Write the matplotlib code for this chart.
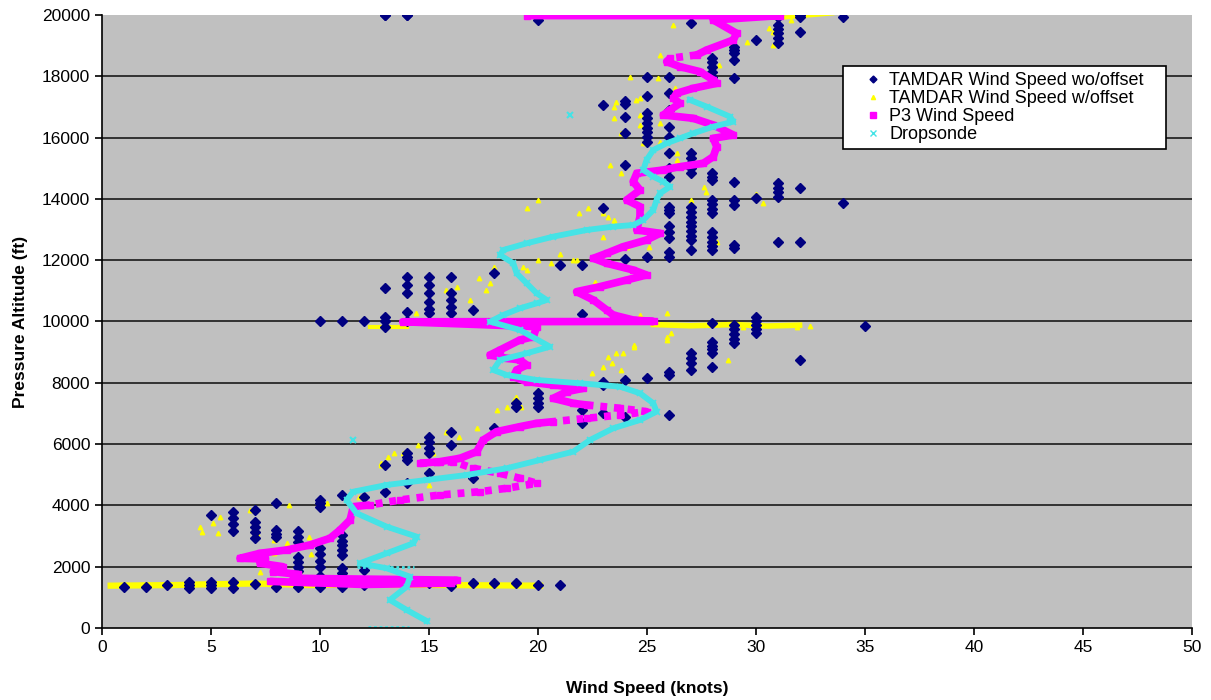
import matplotlib
matplotlib.use('Agg')
import matplotlib.pyplot as plt
from matplotlib.lines import Line2D

plt.rcParams['font.family'] = ['Liberation Sans', 'DejaVu Sans']

# TAMDAR sem offset (losangos azul-marinho)
wo_speed = [13, 14, 20, 27, 31, 31, 31, 31, 31, 31, 32, 32, 32, 34, 30,
            29, 29, 29, 29, 29, 28, 28, 28, 28, 28,
            27, 27, 27, 27, 27, 27, 27, 27, 27, 27, 27, 27, 27, 27, 27, 27, 27, 27,
            26, 26, 26, 26, 26, 26, 26, 26, 26, 26, 26, 26, 26, 26, 26, 26, 26, 26, 26,
            25, 25, 25, 25, 25, 25, 25, 25, 25, 25, 25,
            24, 24, 24, 24, 24, 24, 24, 24,
            23, 23, 23, 23, 23,
            28, 28, 28, 28, 28, 28, 28, 28, 28, 28, 28, 28, 28, 28, 28, 28, 28, 28,
            29, 29, 29, 29, 29, 29, 29, 29, 29, 29,
            30, 30, 30, 30, 30, 30,
            31, 31, 31, 31, 31,
            32, 32, 32, 34, 35, 21, 21, 22, 22, 22, 22,
            13, 13, 13, 13, 13, 13, 13,
            14, 14, 14, 14, 14, 14, 14, 14, 14, 14,
            15, 15, 15, 15, 15, 15, 15, 15, 15, 15, 15, 15,
            16, 16, 16, 16, 16, 16, 16, 16, 16,
            17, 17, 17, 18, 18, 18, 19, 19, 19, 20, 20, 20, 20, 20,
            10, 10, 10, 10, 10, 10, 10, 10, 10, 10, 10,
            11, 11, 11, 11, 11, 11, 11, 11, 11, 11, 11, 11,
            12, 12, 12, 12,
            1, 2, 3, 4, 4, 4, 5, 5, 5, 5, 6, 6, 6, 6, 6, 6,
            7, 7, 7, 7, 7, 7, 8, 8, 8, 8, 8,
            9, 9, 9, 9, 9, 9, 9, 9, 9]
wo_alt = [20000, 20000, 19850, 19740, 19940, 19680, 19550, 19400, 19250, 19080, 20000, 19940, 19450, 19940, 19180,
          18960, 18860, 18760, 18530, 17940, 18600, 18450, 18300, 18150, 17990,
          15500, 15330, 15170, 15000, 14830, 13740, 13580, 13420, 13260, 13100, 12940, 12780, 12660, 12330, 8970, 8800, 8640, 8420,
          17990, 17450, 16900, 16350, 16030, 15500, 15000, 14720, 13740, 13640, 13540, 13100, 12920, 12730, 12270, 12100, 8350, 8250, 6950,
          17990, 17360, 16800, 16640, 16480, 16320, 16180, 16030, 15860, 12100, 8150,
          17200, 17100, 16670, 16140, 15100, 12030, 8090, 6880,
          17064, 13700, 8030, 7930, 7010,
          14840, 14730, 14620, 13960, 13820, 13680, 13540, 12920, 12760, 12600, 12460, 12330, 9950, 9330, 9210, 9090, 8970, 8520,
          14550, 13960, 13800, 12500, 12400, 9890, 9740, 9590, 9440, 9300,
          14030, 10150, 10000, 9880, 9750, 9620,
          14520, 14370, 14220, 14060, 12600,
          14360, 12600, 8740, 13870, 9850, 11840, 1400, 11840, 10240, 7110, 6680,
          20000, 11090, 10150, 10000, 9820, 5320, 4450,
          20000, 11450, 11200, 10920, 10320, 10000, 5700, 5580, 5480, 4730,
          11450, 11200, 10920, 10650, 10400, 10270, 6240, 6060, 5880, 5700, 5050, 1460,
          11450, 10920, 10700, 10480, 10270, 6400, 5970, 1460, 1380,
          10375, 4890, 1460, 11570, 6510, 1460, 7330, 7220, 1460, 7660, 7500, 7340, 7220, 1400,
          10000, 4180, 4070, 3950, 2600, 2400, 2200, 2000, 1700, 1500, 1350,
          10000, 4340, 3030, 2850, 2700, 2550, 2380, 1960, 1800, 1670, 1500, 1340,
          10000, 4280, 1890, 1400,
          1340, 1340, 1400, 1500, 1400, 1300, 3690, 1500, 1400, 1300, 3800, 3600, 3400, 3150, 1500, 1300,
          3850, 3470, 3300, 3120, 2940, 1450, 4070, 3200, 3080, 2970, 1330,
          3150, 2980, 2820, 2320, 2150, 2000, 1850, 1670, 1330]

# TAMDAR com offset (amarelo) - pontos espalhados
w_speed = [26.2, 25.6, 29.6, 30.6, 30.8, 31.6, 30.8, 28.8, 28.3, 24.2, 25.5, 26.3, 24.7, 23.6, 23.5,
           24.7, 24.7, 25.6, 24.0, 24.8, 25.6, 23.3, 23.8, 26.4, 26.4, 27.6, 27.7, 21.9, 23.2, 23.5,
           22.3, 23.0, 23.5, 23.0, 24.1, 25.1, 28.2, 30.3, 21.6, 24.7, 25.9, 26.1, 25.9, 24.4, 23.2,
           23.0, 23.8, 22.5, 31.9, 28.7, 29.4, 23.6, 25.0, 24.5, 23.5, 23.8, 20.0, 19.5, 18.0, 17.3,
           17.8, 17.6, 19.3, 19.5, 16.3, 15.8, 16.9, 16.0, 20.0, 20.6, 21.8, 14.4, 25.9, 24.4, 23.9,
           23.4, 19.0, 18.9, 18.6, 18.1, 19.2, 17.2, 15.8, 16.4, 15.0, 15.2, 13.8, 14.1, 13.1, 12.8,
           15.0, 10.3, 14.5, 4.5, 4.6, 5.1, 5.4, 5.3, 6.8, 7.1, 7.9, 8.5, 8.6, 9.5, 9.6, 9.1, 11.8,
           12.8, 13.4, 10.0, 7.9, 7.25, 27.0, 32.5, 30.0, 22.6, 21.0]
w_alt = [19680, 18700, 19130, 19570, 19450, 19840, 19020, 19120, 18370, 17990, 17940, 17610, 17290, 17170, 16630,
         16740, 16410, 16480, 16140, 15810, 15860, 15110, 14840, 15490, 15270, 14400, 14240, 13530, 13420, 13200,
         13690, 13530, 13310, 12770, 12440, 12440, 12600, 13860, 12000, 10210, 10270, 9620, 9400, 9180, 8850,
         8520, 8420, 8310, 9830, 8740, 9820, 8960, 17990, 17230, 17010, 16140, 13960, 13690, 11780, 11420,
         11250, 11030, 11790, 11680, 11140, 11030, 10710, 11460, 12000, 11900, 12000, 10270, 9500, 9230, 8960,
         8640, 7540, 7440, 7220, 7110, 7220, 6510, 6400, 6240, 5920, 5700, 5700, 5530, 5590, 5370,
         4670, 4070, 5970, 3300, 3140, 3420, 3630, 3100, 3850, 3100, 2870, 2770, 4010, 2970, 2420, 1890, 4280,
         5320, 5700, 2450, 2450, 1830, 13960, 9860, 14150, 11300, 12200]

# faixas densas do TAMDAR com offset (1400, 9900 e 20000 ft)
band_lo_speed = [0.4, 3.3, 4.5, 7.0, 9.5, 12.0, 16.0, 20.1]
band_lo_alt = [1380, 1400, 1420, 1450, 1400, 1420, 1400, 1380]
band_mid_speed = [12.3, 14.0]
band_mid_alt = [9830, 9830]
band_mid2_speed = [25.3, 27.0, 29.0, 30.5, 32.0]
band_mid2_alt = [9900, 9860, 9900, 9850, 9880]
band_top_speed = [29.5, 31.0, 33.5]
band_top_alt = [19950, 19900, 20050]

# P3 (magenta)
p3_speed = [19.5, 31.1, 28.04, 29.11, 28.96, 27.74, 27.28, 26.06, 25.90, 26.51, 27.43, 28.04, 28.20,
            27.12, 26.36, 26.21, 26.51, 26.06, 25.75, 27.12, 28.04, 28.96, 28.04, 28.20, 28.04, 27.58,
            26.51, 25.75, 24.53, 24.37, 24.68, 24.07, 24.68, 24.68, 24.53, 25.60, 24.98, 23.91, 23.15,
            22.54, 23.15, 24.37, 24.98, 24.07, 22.84, 21.77, 22.54, 23.15, 23.45, 24.37, 25.3, 13.8,
            19.94, 19.79, 19.17, 18.26, 17.80, 18.56, 19.17, 19.48, 19.02, 18.87, 19.48, 20.70, 22.08,
            21.32, 20.70, 21.62, 22.23, 23.76, 24.98, 23.76, 22.23, 20.70, 19.94, 19.17, 18.10, 17.49,
            17.19, 16.42, 15.50, 14.59, 16.12, 17.03, 18.26, 19.17, 19.94, 18.56, 17.34, 15.50, 13.67,
            12.29, 11.53, 11.38, 10.92, 10.46, 9.54, 8.47, 7.25, 6.33, 7.5, 7.25, 8.3, 7.86, 9.0, 8.78,
            16.27, 16.0, 12.0, 7.7]
p3_alt = [19980, 19980, 19837, 19402, 19184, 18858, 18695, 18587, 18478, 18314, 18151, 17879, 17771,
          17608, 17445, 17282, 17118, 16900, 16737, 16629, 16411, 16085, 15976, 15703, 15377, 15159,
          15051, 14943, 14834, 14561, 14290, 13964, 13746, 13420, 12985, 12877, 12659, 12441, 12224,
          12061, 11898, 11680, 11517, 11354, 11136, 10973, 10701, 10375, 10212, 10049, 10000, 9990,
          9831, 9504, 9396, 9070, 8907, 8799, 8744, 8581, 8418, 8200, 8036, 7928, 7820,
          7710, 7493, 7330, 7276, 7167, 7058, 6949, 6841, 6732, 6678, 6569, 6405, 6134,
          5753, 5536, 5427, 5373, 5427, 5210, 5047, 4884, 4721, 4558, 4447, 4339, 4176,
          4013, 3959, 3524, 3197, 2926, 2708, 2545, 2437, 2274, 2250, 2110, 2000, 1838, 1750, 1621,
          1560, 1460, 1420, 1520]
# trechos onde os pontos do P3 ficam espacados (indices inicio, fim)
p3_sparse = [(6, 7), (68, 73), (81, 91)]

# Dropsonde (ciano)
drop_speed = [26.97, 27.74, 28.81, 28.96, 28.04, 27.12, 26.51, 25.90, 25.29, 24.98, 24.83, 25.29, 25.75,
              26.06, 25.60, 25.44, 25.29, 24.83, 24.37, 23.45, 22.23, 20.70, 19.48, 18.41, 18.26, 18.87,
              19.02, 19.48, 19.94, 20.40, 19.94, 19.17, 18.41, 17.80, 19.17, 20.55, 19.48, 18.26, 17.95,
              18.56, 19.94, 21.93, 23.76, 24.68, 25.29, 25.44, 24.68, 23.45, 22.39, 21.62, 20.09, 18.56,
              16.73, 14.89, 13.06, 11.53, 11.22, 11.68, 13.06, 14.44, 14.28, 13.06, 11.83, 13.06, 14.13,
              13.98, 13.21, 13.98, 14.89]
drop_alt = [17227, 17009, 16683, 16520, 16357, 16139, 15976, 15813, 15595, 15269, 14943, 14725, 14562,
            14399, 14182, 13964, 13638, 13312, 13148, 13094, 12985, 12768, 12550, 12333, 12170, 11898,
            11572, 11246, 10919, 10701, 10593, 10430, 10212, 9993, 9723, 9178, 8962, 8744, 8418,
            8254, 8091, 7983, 7874, 7657, 7330, 7058, 6786, 6515, 6134, 5753, 5481, 5210,
            4992, 4829, 4666, 4447, 4176, 3742, 3305, 2979, 2763, 2437, 2110, 1948, 1674,
            1347, 914, 587, 230]
drop_out_speed = [21.47, 11.5]
drop_out_alt = [16737, 6134]
# pontos espacados do dropsonde (linhas pontilhadas em 2000 e 0 ft)
drop_dot_speed = [11.7, 14.3]
drop_dot_alt = [1990, 1990]
drop_dot2_speed = [12.2, 14.1]
drop_dot2_alt = [40, 40]

navy = '#000080'
yellow = '#FFFF00'
magenta = '#FF00FF'
cyan = '#45E3E6'

fig = plt.figure(figsize=(12.11, 7.0), dpi=100)
ax = fig.add_axes([0.0842, 0.1029, 0.9001, 0.8757])
ax.set_facecolor('#C0C0C0')

ax.plot(band_lo_speed, band_lo_alt, color=yellow, lw=4.5, zorder=3)
ax.plot(band_mid_speed, band_mid_alt, color=yellow, lw=3, zorder=3)
ax.plot(band_mid2_speed, band_mid2_alt, color=yellow, lw=4, zorder=3)
ax.plot(band_top_speed, band_top_alt, color=yellow, lw=3, zorder=3)
ax.plot(w_speed, w_alt, ls='none', marker='^', ms=3.2, color=yellow, zorder=3)
ax.plot(wo_speed, wo_alt, ls='none', marker='D', ms=4.6, color=navy, zorder=4)

# P3: trechos continuos e trechos espacados
cuts = [0]
for a, b in p3_sparse:
    cuts += [a, b]
cuts.append(len(p3_speed) - 1)
for i in range(len(cuts) - 1):
    a, b = cuts[i], cuts[i + 1]
    sparse = (i % 2 == 1)
    ax.plot(p3_speed[a:b + 1], p3_alt[a:b + 1], color=magenta, lw=5.5,
            ls=(0, (0.9, 0.9)) if sparse else '-', dash_capstyle='butt',
            solid_capstyle='butt', zorder=5)
ax.plot(p3_speed, p3_alt, ls='none', color=magenta, marker='s', ms=5, zorder=5)

ax.plot(drop_speed, drop_alt, color=cyan, lw=4.2, marker='x', ms=4, mew=1.2, zorder=6)
ax.plot(drop_out_speed, drop_out_alt, ls='none', color=cyan, marker='x', ms=4.5, mew=1.5, zorder=6)
ax.plot(drop_dot_speed, drop_dot_alt, color=cyan, lw=2, ls=(0, (1, 1)), zorder=6)
ax.plot(drop_dot2_speed, drop_dot2_alt, color=cyan, lw=2, ls=(0, (1, 1)), zorder=6)

ax.set_xlim(0, 50)
ax.set_ylim(0, 20000)
ax.set_xticks(range(0, 51, 5))
ax.set_yticks(range(0, 20001, 2000))
for yy in range(2000, 20000, 2000):
    ax.axhline(yy, color='#1a1a1a', lw=1.2, zorder=1)
ax.spines['top'].set_visible(False)
ax.spines['right'].set_visible(False)
ax.spines['left'].set_linewidth(1.2)
ax.spines['bottom'].set_linewidth(1.2)
ax.spines['left'].set_zorder(7)
ax.spines['bottom'].set_zorder(7)
ax.tick_params(direction='out', length=5, width=1.2, labelsize=12.5, colors='black')
ax.set_xlabel('Wind Speed (knots)', fontsize=12.5, fontweight='bold', labelpad=19)
ax.set_ylabel('Pressure Altitude (ft)', fontsize=12.5, fontweight='bold', labelpad=10)

handles = [
    Line2D([], [], ls='none', marker='D', ms=3.5, color=navy),
    Line2D([], [], ls='none', marker='^', ms=3, color=yellow),
    Line2D([], [], ls='none', marker='s', ms=4, color=magenta),
    Line2D([], [], ls='none', marker='x', ms=4, color=cyan),
]
labels = ['TAMDAR Wind Speed wo/offset', 'TAMDAR Wind Speed w/offset', 'P3 Wind Speed', 'Dropsonde']
leg = ax.legend(handles, labels, loc='upper left', bbox_to_anchor=(0.680, 0.785, 0.296, 0.132),
                mode='expand', fontsize=13, frameon=True, fancybox=False, framealpha=1,
                edgecolor='black', borderpad=0.35, labelspacing=0.05, handlelength=2.6,
                handletextpad=-0.4, borderaxespad=0)
leg.get_frame().set_linewidth(1.2)
leg.set_zorder(10)

fig.savefig('out.png', dpi=100)
